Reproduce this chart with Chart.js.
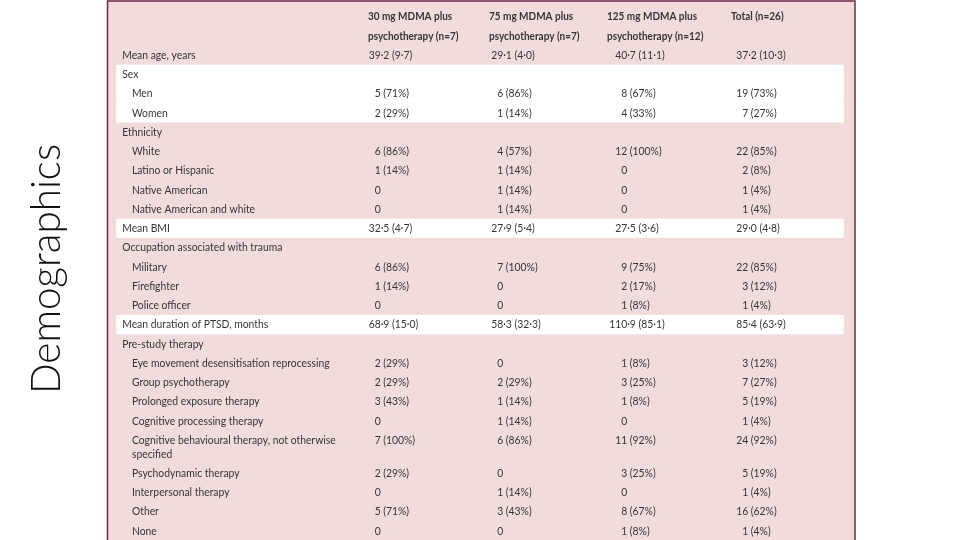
<!DOCTYPE html>
<html>
<head>
<meta charset="utf-8">
<title>Demographics</title>
<script src="https://cdn.jsdelivr.net/npm/chart.js@4.4.1/dist/chart.umd.min.js"></script>
<style>
    html, body { margin: 0; padding: 0; background: #ffffff; }
    #containerDiv { width: 960px; height: 540px; }
</style>
</head>
<body>
<div id="containerDiv"><canvas id="tableChart" width="960" height="540"></canvas></div>
<script>
// Table contents
const rowLabels = [
    'Mean age, years',
    'Sex', 'Men', 'Women',
    'Ethnicity', 'White', 'Latino or Hispanic', 'Native American', 'Native American and white',
    'Mean BMI',
    'Occupation associated with trauma', 'Military', 'Firefighter', 'Police officer',
    'Mean duration of PTSD, months',
    'Pre-study therapy', 'Eye movement desensitisation reprocessing', 'Group psychotherapy',
    'Prolonged exposure therapy', 'Cognitive processing therapy',
    ['Cognitive behavioural therapy, not otherwise', 'specified'],
    'Psychodynamic therapy', 'Interpersonal therapy', 'Other', 'None'
];
// 0 = heading row, 1 = indented sub row
const rowLevels = [0, 0, 1, 1, 0, 1, 1, 1, 1, 0, 0, 1, 1, 1, 0, 0, 1, 1, 1, 1, 1, 1, 1, 1, 1];

const columnHeaders = [
    ['30 mg MDMA plus', 'psychotherapy (n=7)'],
    ['75 mg MDMA plus', 'psychotherapy (n=7)'],
    ['125 mg MDMA plus', 'psychotherapy (n=12)'],
    ['Total (n=26)']
];

const mdma30 = ['39·2 (9·7)', null, '5 (71%)', '2 (29%)', null, '6 (86%)', '1 (14%)', '0', '0', '32·5 (4·7)',
    null, '6 (86%)', '1 (14%)', '0', '68·9 (15·0)', null, '2 (29%)', '2 (29%)', '3 (43%)', '0', '7 (100%)',
    '2 (29%)', '0', '5 (71%)', '0'];
const mdma75 = ['29·1 (4·0)', null, '6 (86%)', '1 (14%)', null, '4 (57%)', '1 (14%)', '1 (14%)', '1 (14%)', '27·9 (5·4)',
    null, '7 (100%)', '0', '0', '58·3 (32·3)', null, '0', '2 (29%)', '1 (14%)', '1 (14%)', '6 (86%)',
    '0', '1 (14%)', '3 (43%)', '0'];
const mdma125 = ['40·7 (11·1)', null, '8 (67%)', '4 (33%)', null, '12 (100%)', '0', '0', '0', '27·5 (3·6)',
    null, '9 (75%)', '2 (17%)', '1 (8%)', '110·9 (85·1)', null, '1 (8%)', '3 (25%)', '1 (8%)', '0', '11 (92%)',
    '3 (25%)', '0', '8 (67%)', '1 (8%)'];
const totals = ['37·2 (10·3)', null, '19 (73%)', '7 (27%)', null, '22 (85%)', '2 (8%)', '1 (4%)', '1 (4%)', '29·0 (4·8)',
    null, '22 (85%)', '3 (12%)', '1 (4%)', '85·4 (63·9)', null, '3 (12%)', '7 (27%)', '5 (19%)', '1 (4%)', '24 (92%)',
    '5 (19%)', '1 (4%)', '16 (62%)', '1 (4%)'];
const valueColumns = [mdma30, mdma75, mdma125, totals];

// rows shown on a white band
const whiteRows = ['Sex', 'Men', 'Women', 'Mean BMI', 'Mean duration of PTSD, months'];

// Layout (x in percent of the table width, y in row units)
const labelX = [1.9, 3.2];
const headerX = [34.8, 51.0, 66.8, 83.4];
const valueX = [36.5, 52.9, 69.5, 85.7]; // right edge of the leading number
const bandX = [1.1, 98.5];
const wrapStep = 0.72;
const headerRow = -2;

// the original typeface is a narrow sans, so Lato is squeezed a little
const bodyFont = '11.5px Lato, "Liberation Sans", sans-serif';
const headFont = 'bold 11.5px Lato, "Liberation Sans", sans-serif';
const bodySquash = 0.9;
const headSquash = 0.87;
const textColor = '#363636';

// row positions: wrapped labels push the following rows down
const rowPos = [];
let pos = 0;
rowLabels.forEach(label => {
    rowPos.push(pos);
    const lines = Array.isArray(label) ? label.length : 1;
    pos += 1 + (lines - 1) * wrapStep;
});

const labelText = label => Array.isArray(label) ? label : [label];

// datasets: one per column of text, drawn as invisible points
const datasets = [];
datasets.push({
    kind: 'label',
    data: rowLabels.map((label, i) => ({ x: labelX[rowLevels[i]], y: rowPos[i], text: labelText(label) }))
});
datasets.push({
    kind: 'header',
    data: columnHeaders.map((head, c) => ({ x: headerX[c], y: headerRow, text: head }))
});
valueColumns.forEach((column, c) => {
    const points = [];
    column.forEach((value, i) => {
        if (value !== null) points.push({ x: valueX[c], y: rowPos[i], text: [value] });
    });
    datasets.push({ kind: 'value', data: points });
});
datasets.forEach(ds => { ds.pointRadius = 0; ds.showLine = false; });

const tablePlugin = {
    id: 'tablePlugin',
    beforeDraw(chart) {
        const { ctx, chartArea, scales } = chart;
        ctx.save();
        ctx.fillStyle = '#ffffff';
        ctx.fillRect(0, 0, chart.width, chart.height);
        // pink panel
        ctx.fillStyle = '#f2dcdb';
        ctx.fillRect(chartArea.left, chartArea.top, chartArea.right - chartArea.left, chartArea.bottom - chartArea.top);
        // white bands
        ctx.fillStyle = '#ffffff';
        const x0 = scales.x.getPixelForValue(bandX[0]);
        const x1 = scales.x.getPixelForValue(bandX[1]);
        rowLabels.forEach((label, i) => {
            if (!whiteRows.includes(labelText(label)[0])) return;
            const top = scales.y.getPixelForValue(rowPos[i] - 0.5);
            const bottom = scales.y.getPixelForValue(rowPos[i] + 0.5);
            ctx.fillRect(x0, top, x1 - x0, bottom - top);
        });
        ctx.restore();
    },
    afterDatasetsDraw(chart) {
        const { ctx, scales } = chart;
        const rowPx = Math.abs(scales.y.getPixelForValue(1) - scales.y.getPixelForValue(0));
        ctx.save();
        ctx.fillStyle = textColor;
        ctx.textBaseline = 'middle';
        ctx.textAlign = 'left';
        chart.data.datasets.forEach((ds, d) => {
            const meta = chart.getDatasetMeta(d);
            const isHead = ds.kind === 'header';
            const squash = isHead ? headSquash : bodySquash;
            ctx.font = isHead ? headFont : bodyFont;
            meta.data.forEach((pt, i) => {
                const lines = ds.data[i].text;
                lines.forEach((line, k) => {
                    let x = pt.x;
                    if (ds.kind === 'value') {
                        const lead = line.split(/[·\s]/)[0];
                        x -= ctx.measureText(lead).width * squash;
                    }
                    const step = isHead ? rowPx : rowPx * wrapStep;
                    ctx.save();
                    ctx.translate(x, pt.y + k * step);
                    ctx.scale(squash, 1);
                    ctx.fillText(line, 0, 0);
                    ctx.restore();
                });
            });
        });
        ctx.restore();
    },
    afterDraw(chart) {
        const { ctx, chartArea } = chart;
        ctx.save();
        // panel border
        ctx.strokeStyle = '#6e2a4a';
        ctx.lineWidth = 1.5;
        ctx.strokeRect(chartArea.left - 0.5, chartArea.top + 1, chartArea.right - chartArea.left + 0.5, chartArea.bottom + 10);
        // side title
        const title = 'Demographics';
        ctx.font = '300 40px Lato, "Open Sans", sans-serif';
        const size = 40 * 250 / ctx.measureText(title).width;
        ctx.font = '300 ' + size.toFixed(1) + 'px Lato, "Open Sans", sans-serif';
        ctx.fillStyle = '#111111';
        ctx.textAlign = 'center';
        ctx.textBaseline = 'middle';
        ctx.translate(chartArea.left - 61, 269);
        ctx.rotate(-Math.PI / 2);
        ctx.fillText(title, 0, 0);
        ctx.restore();
    }
};

const tableChart = new Chart(document.getElementById('tableChart').getContext('2d'), {
    type: 'scatter',
    data: { datasets: datasets },
    options: {
        responsive: false,
        animation: false,
        devicePixelRatio: 1,
        layout: { padding: { left: 108, right: 105, top: 0, bottom: 0 } },
        plugins: { legend: { display: false }, tooltip: { enabled: false } },
        scales: {
            x: { type: 'linear', min: 0, max: 100, display: false },
            y: { type: 'linear', min: -2.86, max: 25.19, reverse: true, display: false }
        }
    },
    plugins: [tablePlugin]
});
</script>
</body>
</html>
